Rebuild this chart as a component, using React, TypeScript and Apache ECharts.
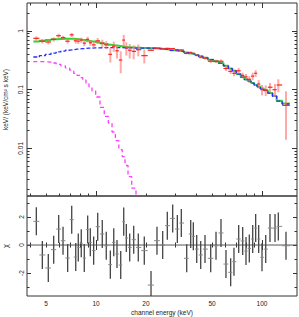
import React, { useEffect, useRef } from "react";
import * as echarts from "echarts";

// ---- data ----
const energy = [
  4.37, 4.75, 5.16, 5.56, 5.96, 6.33, 6.75, 7.14, 7.55, 7.82, 8.15, 8.5, 8.91, 9.24, 9.68, 10.24, 10.91, 11.53, 12.2, 12.79,
  13.38, 14.09, 14.69, 15.23, 15.96, 16.87, 17.98, 19.54, 21.45, 23.3, 25.22, 26.89, 28.97, 30.9, 32.65, 35.19, 37.2, 38.57, 40.43, 42.73,
  45.36, 49.09, 52.84, 56.62, 60.68, 64.76, 67.79, 72.37, 76.5, 80.1, 83.85, 87.9, 91.6, 95.5, 100, 105.3, 111.7, 119.8, 125.4, 139.5,
];
const flux = [
  0.75, 0.67, 0.65, 0.72, 0.83, 0.77, 0.67, 0.86, 0.68, 0.67, 0.7, 0.62, 0.72, 0.63, 0.58, 0.68, 0.62, 0.58, 0.4, 0.55,
  0.46, 0.32, 0.7, 0.51, 0.47, 0.45, 0.48, 0.38, 0.47, 0.51, 0.495, 0.505, 0.5, 0.48, 0.475, 0.415, 0.43, 0.415, 0.385, 0.358,
  0.345, 0.305, 0.304, 0.305, 0.23, 0.205, 0.19, 0.21, 0.175, 0.165, 0.15, 0.17, 0.19, 0.125, 0.1, 0.098, 0.11, 0.1, 0.12, 0.054,
];
const fluxErr = [
  0.06, 0.06, 0.06, 0.06, 0.07, 0.06, 0.06, 0.07, 0.07, 0.07, 0.07, 0.07, 0.08, 0.07, 0.07, 0.08, 0.09, 0.09, 0.11, 0.11,
  0.12, 0.13, 0.16, 0.13, 0.13, 0.12, 0.11, 0.1, 0.015, 0.015, 0.015, 0.015, 0.016, 0.016, 0.016, 0.016, 0.017, 0.017, 0.017, 0.018,
  0.018, 0.02, 0.02, 0.022, 0.022, 0.02, 0.02, 0.025, 0.02, 0.02, 0.02, 0.025, 0.025, 0.02, 0.02, 0.02, 0.02, 0.025, 0.03, 0.04,
];
const modelTotal = [
  0.66, 0.68, 0.7, 0.72, 0.73, 0.74, 0.74, 0.74, 0.73, 0.72, 0.71, 0.7, 0.68, 0.67, 0.66, 0.64, 0.62, 0.6, 0.58, 0.57,
  0.56, 0.55, 0.54, 0.535, 0.53, 0.525, 0.52, 0.515, 0.51, 0.505, 0.495, 0.485, 0.47, 0.46, 0.45, 0.43, 0.415, 0.405, 0.39, 0.37,
  0.35, 0.325, 0.305, 0.285, 0.255, 0.23, 0.21, 0.185, 0.165, 0.15, 0.14, 0.13, 0.12, 0.113, 0.105, 0.098, 0.088, 0.078, 0.065, 0.058,
];
const modelHard = [
  0.36, 0.38, 0.4, 0.42, 0.44, 0.455, 0.47, 0.48, 0.49, 0.495, 0.5, 0.505, 0.51, 0.51, 0.515, 0.515, 0.52, 0.52, 0.52, 0.52,
  0.52, 0.52, 0.515, 0.515, 0.515, 0.51, 0.51, 0.51, 0.508, 0.503, 0.494, 0.484, 0.469, 0.459, 0.449, 0.429, 0.414, 0.404, 0.389, 0.369,
  0.349, 0.324, 0.304, 0.284, 0.254, 0.229, 0.209, 0.184, 0.164, 0.149, 0.139, 0.129, 0.119, 0.112, 0.104, 0.097, 0.087, 0.077, 0.064, 0.057,
];
const modelSoft = [
  0.3, 0.3, 0.295, 0.285, 0.27, 0.255, 0.235, 0.215, 0.19, 0.175, 0.16, 0.145, 0.125, 0.112, 0.095, 0.075, 0.05, 0.035, 0.027, 0.019,
  0.0135, 0.0095, 0.0072, 0.0051, 0.0033, 0.0021, 0.0012,
];
const residuals = [
  1.69, -0.71, -1.64, -0.33, 1.14, 0.31, -0.93, 1.81, -0.86, -0.17, 0.12, -0.93, 1.1, 0.19, -0.4, 1.31, 0.79, -0.05, -1.4, 0.19,
  -0.64, -1.43, 1.67, 0.5, -0.17, 0.38, -0.17, -0.4, -2.86, 0.31, 0.0, 1.38, 1.9, 1.14, 1.57, -0.95, 0.79, 0.62, -0.29, -0.71,
  -0.29, -0.95, -0.05, 0.86, -1.36, -1.95, -1.19, 0.43, 0.29, -0.43, -0.24, 0.43, 1.21, 0.43, -0.88, -0.29, 1.21, 1.21, 1.33, -0.05,
];

const xMajorTicks = [10, 100];
const xMinorTicks = [4, 5, 6, 7, 8, 9, 20, 30, 40, 50, 60, 70, 80, 90];
const xTickLabels = [5, 10, 20, 50, 100];
const yMajorTicks = [0.01, 0.1, 1];
const yMinorTicks = [
  0.002, 0.003, 0.004, 0.005, 0.006, 0.007, 0.008, 0.009,
  0.02, 0.03, 0.04, 0.05, 0.06, 0.07, 0.08, 0.09,
  0.2, 0.3, 0.4, 0.5, 0.6, 0.7, 0.8, 0.9, 2,
];
const yTickLabels = [0.01, 0.1, 1];
const resMajorTicks = [-2, 0, 2];
const resMinorTicks = [-3, -1, 1, 3];
const resTickLabels = [-2, 0, 2];

const X_MIN = 3.84;
const X_MAX = 162.5;
const Y_MIN = 0.00154;
const Y_MAX = 3.0;
const R_MIN = -3.64;
const R_MAX = 3.5;

const FONT = "'Liberation Sans', Arial, Helvetica, sans-serif";
const TXT = "#222";
const AXC = "#333";

function buildEdges(e: number[]) {
  const n = e.length;
  const lo: number[] = [];
  const hi: number[] = [];
  for (let i = 0; i < n; i++) {
    lo.push(i > 0 ? Math.sqrt(e[i - 1] * e[i]) : (e[0] * e[0]) / Math.sqrt(e[0] * e[1]));
    hi.push(i < n - 1 ? Math.sqrt(e[i] * e[i + 1]) : (e[n - 1] * e[n - 1]) / Math.sqrt(e[n - 2] * e[n - 1]));
  }
  return { lo, hi };
}
const { lo: binLo, hi: binHi } = buildEdges(energy);

function stepData(vals: number[]) {
  const pts = vals.map((v, i) => [binLo[i], v]);
  pts.push([binHi[vals.length - 1], vals[vals.length - 1]]);
  return pts;
}

const labelStyle = { fontSize: 6.5, color: TXT, fontFamily: FONT };
const tickLine = { color: AXC, width: 1 };

function mkX(gridIndex: number, position: string, ticks: number[], len: number, labels?: number[], name?: string) {
  return {
    type: "log",
    logBase: 10,
    gridIndex,
    position,
    min: X_MIN,
    max: X_MAX,
    axisLine: { show: false },
    splitLine: { show: false },
    axisTick: { show: true, inside: true, length: len, customValues: ticks, lineStyle: tickLine },
    axisLabel: labels
      ? { show: true, customValues: labels, margin: 3.5, formatter: (v: number) => String(Math.round(v)), ...labelStyle }
      : { show: false },
    name: name || "",
    nameLocation: "middle",
    nameGap: 12.5,
    nameTextStyle: { ...labelStyle },
  };
}

function mkYLog(position: string, ticks: number[], len: number, labels?: number[], name?: string) {
  return {
    type: "log",
    logBase: 10,
    gridIndex: 0,
    position,
    min: Y_MIN,
    max: Y_MAX,
    axisLine: { show: false },
    splitLine: { show: false },
    axisTick: { show: true, inside: true, length: len, customValues: ticks, lineStyle: tickLine },
    axisLabel: labels
      ? {
          show: true,
          customValues: labels,
          rotate: 90,
          margin: 3,
          formatter: (v: number) => String(Number(v.toPrecision(1))),
          ...labelStyle,
        }
      : { show: false },
    name: name || "",
    nameLocation: "middle",
    nameRotate: 90,
    nameGap: 16,
    nameTextStyle: { ...labelStyle },
  };
}

function mkYRes(position: string, ticks: number[], len: number, labels?: number[], name?: string) {
  return {
    type: "value",
    gridIndex: 1,
    position,
    min: R_MIN,
    max: R_MAX,
    axisLine: { show: false },
    splitLine: { show: false },
    axisTick: { show: true, inside: true, length: len, customValues: ticks, lineStyle: tickLine },
    axisLabel: labels
      ? { show: true, customValues: labels, rotate: 90, margin: 2.5, formatter: (v: number) => String(Math.round(v)), ...labelStyle }
      : { show: false },
    name: name || "",
    nameLocation: "middle",
    nameRotate: 90,
    nameGap: 12,
    nameTextStyle: { ...labelStyle, fontSize: 7.5 },
  };
}

function errorBars(rows: number[][], vColor: string, vWidth: number, hColor: string, hWidth: number, xi: number, yi: number, z: number) {
  return {
    type: "custom",
    xAxisIndex: xi,
    yAxisIndex: yi,
    clip: true,
    silent: true,
    z,
    data: rows,
    encode: { x: 0, y: 3 },
    renderItem: (_params: any, api: any) => {
      const e = api.value(0);
      const l = api.value(1);
      const h = api.value(2);
      const y = api.value(3);
      const yl = api.value(4);
      const yh = api.value(5);
      const pL = api.coord([l, y]);
      const pR = api.coord([h, y]);
      const pB = api.coord([e, yl]);
      const pT = api.coord([e, yh]);
      return {
        type: "group",
        children: [
          { type: "line", shape: { x1: pB[0], y1: pB[1], x2: pT[0], y2: pT[1] }, style: { stroke: vColor, lineWidth: vWidth } },
          { type: "line", shape: { x1: pL[0], y1: pL[1], x2: pR[0], y2: pR[1] }, style: { stroke: hColor, lineWidth: hWidth } },
        ],
      };
    },
  };
}

function stepLine(vals: number[], color: string, width: number, dash: any, z: number) {
  return {
    type: "line",
    xAxisIndex: 0,
    yAxisIndex: 0,
    data: stepData(vals),
    step: "end",
    symbol: "none",
    showSymbol: false,
    silent: true,
    clip: true,
    z,
    lineStyle: { color, width, type: dash },
  };
}

export default function App() {
  const ref = useRef<HTMLDivElement>(null);
  useEffect(() => {
    if (!ref.current) return;
    const chart = echarts.init(ref.current, null, { renderer: "svg" });
    const dataRows = energy.map((e, i) => [e, binLo[i], binHi[i], flux[i], flux[i] - fluxErr[i], flux[i] + fluxErr[i]]);
    const resRows = energy.map((e, i) => [e, binLo[i], binHi[i], residuals[i], residuals[i] - 1, residuals[i] + 1]);
    const option: any = {
      animation: false,
      backgroundColor: "#fff",
      textStyle: { fontFamily: FONT },
      grid: [
        { left: 27, top: 3, width: 270, height: 193, show: true, borderColor: AXC, borderWidth: 1, backgroundColor: "transparent", containLabel: false, outerBoundsMode: "none" },
        { left: 27, top: 196, width: 270, height: 100, show: true, borderColor: AXC, borderWidth: 1, backgroundColor: "transparent", containLabel: false, outerBoundsMode: "none" },
      ],
      xAxis: [
        mkX(0, "bottom", xMajorTicks, 5),
        mkX(0, "bottom", xMinorTicks, 2.5),
        mkX(0, "top", xMajorTicks, 5),
        mkX(0, "top", xMinorTicks, 2.5),
        mkX(1, "bottom", xMajorTicks, 5, xTickLabels, "channel energy (keV)"),
        mkX(1, "bottom", xMinorTicks, 2.5),
        mkX(1, "top", xMajorTicks, 5),
        mkX(1, "top", xMinorTicks, 2.5),
      ],
      yAxis: [
        mkYLog("left", yMajorTicks, 5, yTickLabels, "keV/ (keV/cm\u00b2 s keV)"),
        mkYLog("left", yMinorTicks, 2.5),
        mkYLog("right", yMajorTicks, 5),
        mkYLog("right", yMinorTicks, 2.5),
        mkYRes("left", resMajorTicks, 4, resTickLabels, "\u03c7"),
        mkYRes("left", resMinorTicks, 2.5),
        mkYRes("right", resMajorTicks, 4),
        mkYRes("right", resMinorTicks, 2.5),
      ],
      series: [
        stepLine(modelTotal, "#2fd62f", 2, "solid", 2),
        stepLine(modelHard, "#2b2bff", 1.3, [4, 2], 3),
        stepLine(modelSoft, "#ff3cff", 1.3, [4, 3], 3),
        errorBars(dataRows, "rgba(255,110,110,0.6)", 2, "#ff2020", 1.2, 0, 0, 4),
        {
          type: "line",
          xAxisIndex: 4,
          yAxisIndex: 4,
          data: [
            [X_MIN, 0],
            [X_MAX, 0],
          ],
          symbol: "none",
          silent: true,
          z: 2,
          lineStyle: { color: "#555", width: 1 },
        },
        errorBars(resRows, "#444", 1.3, "#888", 1, 4, 4, 4),
      ],
    };
    chart.setOption(option);
    return () => chart.dispose();
  }, []);
  return (
    <div
      ref={ref}
      style={{ position: "absolute", left: 0, top: 0, width: 299, height: 317, background: "#fff" }}
    />
  );
}
